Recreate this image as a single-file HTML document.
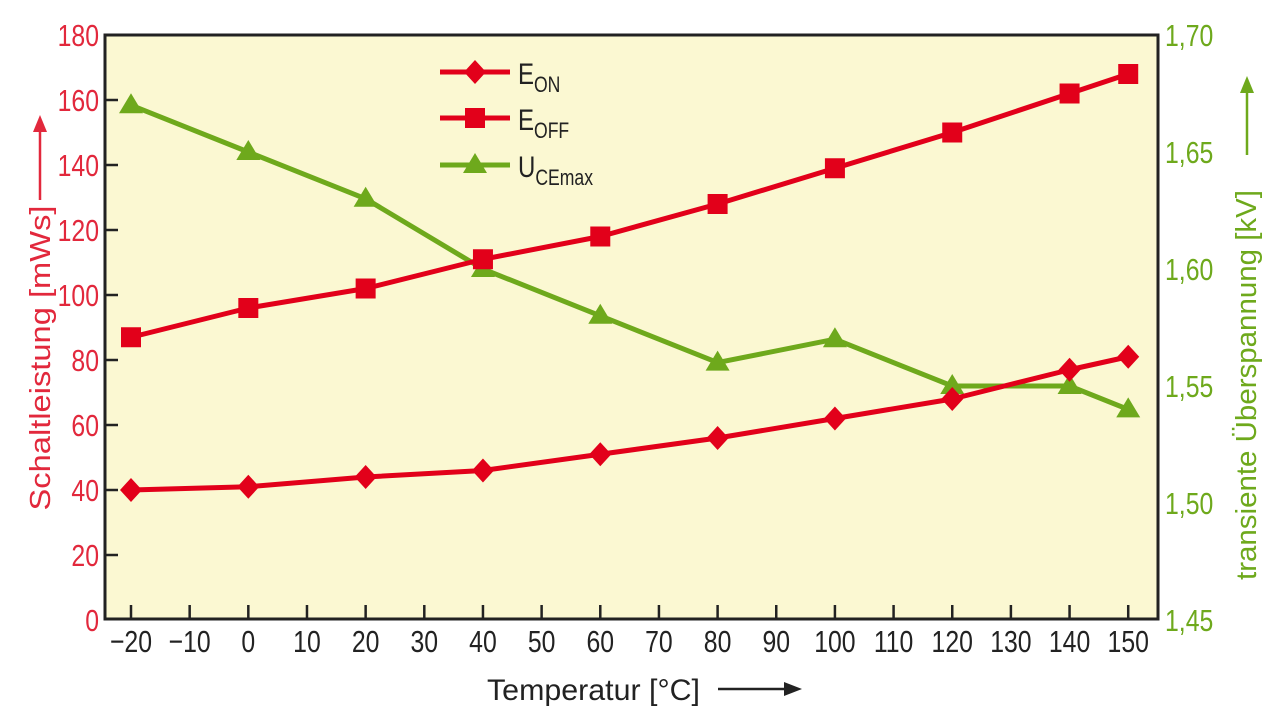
<!DOCTYPE html>
<html><head><meta charset="utf-8"><style>
body{margin:0;background:#fff;}
svg{display:block;font-family:"Liberation Sans Narrow","Liberation Sans",sans-serif;}
</style></head><body>
<svg id="chart" width="1280" height="721" viewBox="0 0 1280 721">
<rect x="105" y="35" width="1053" height="584" fill="#fbf8d2" stroke="#222" stroke-width="3"/>
<g id="ticks"></g><g id="series"></g>
<g font-size="30" fill="#222">
 <line x1="440" y1="72" x2="510" y2="72" stroke="#e2001a" stroke-width="5"/><path d="M475 60 L486 72 L475 84 L464 72Z" fill="#e2001a"/>
 <text class="c" x="518" y="84">E<tspan font-size="22" dy="8">ON</tspan></text>
 <line x1="440" y1="118" x2="510" y2="118" stroke="#e2001a" stroke-width="5"/><rect x="465" y="108" width="20" height="20" fill="#e2001a"/>
 <text class="c" x="518" y="130">E<tspan font-size="22" dy="8">OFF</tspan></text>
 <line x1="440" y1="165" x2="510" y2="165" stroke="#6ea91c" stroke-width="5"/><path d="M475 153 L487 173 L463 173Z" fill="#6ea91c"/>
 <text class="c" x="518" y="177">U<tspan font-size="22" dy="8">CEmax</tspan></text>
</g>
<text transform="translate(50,358) rotate(-90)" text-anchor="middle" font-size="29" fill="#e2283c" textLength="305" lengthAdjust="spacingAndGlyphs">Schaltleistung [mWs]</text>
<g><line x1="40" y1="200" x2="40" y2="130" stroke="#e2283c" stroke-width="2.5"/><path d="M40 115 L47 132 L33 132Z" fill="#e2283c"/></g>
<text transform="translate(1256,385) rotate(-90)" text-anchor="middle" font-size="29" fill="#6ea91c" textLength="390" lengthAdjust="spacingAndGlyphs">transiente Überspannung [kV]</text>
<g><line x1="1247" y1="155" x2="1247" y2="92" stroke="#6ea91c" stroke-width="2.5"/><path d="M1247 76 L1254 93 L1240 93Z" fill="#6ea91c"/></g>
<text x="487" y="700" font-size="30" fill="#222" textLength="213" lengthAdjust="spacingAndGlyphs">Temperatur [°C]</text>
<g><line x1="718" y1="689" x2="785" y2="689" stroke="#222" stroke-width="2.5"/><path d="M802 689 L784 682 L784 696Z" fill="#222"/></g>
</svg>
<script>
const temps=[-20,0,20,40,60,80,100,120,140,150];
const eon=[40,41,44,46,51,56,62,68,77,81];
const eoff=[87,96,102,111,118,128,139,150,162,168];
const uce=[1.67,1.65,1.63,1.60,1.58,1.56,1.57,1.55,1.55,1.54];
const xTicks=[-20,-10,0,10,20,30,40,50,60,70,80,90,100,110,120,130,140,150];
const yLeftTicks=[0,20,40,60,80,100,120,140,160,180];
const yRightTicks=["1,45","1,50","1,55","1,60","1,65","1,70"];
const NS="http://www.w3.org/2000/svg";
const X=v=>131+(v+20)*5.866, YL=v=>620-v*3.25, YR=v=>620-(v-1.45)*2340;
function mk(t,a,p){const e=document.createElementNS(NS,t);for(const k in a)e.setAttribute(k,a[k]);p.appendChild(e);return e;}
const tk=document.getElementById('ticks'), sr=document.getElementById('series');
xTicks.forEach(v=>{const x=X(v);
 const l=mk('line',{x1:x,y1:619,x2:x,y2:605,stroke:'#222','stroke-width':2.5},tk);
 
 
 const t=mk('text',{x:x,y:652,'text-anchor':'middle','font-size':31,fill:'#222',class:'c'},tk);
 t.textContent=v<0?'\u2212'+(-v):v;
 
 });
yLeftTicks.forEach(v=>{const y=YL(v);
 if(v>0&&v<180){const l=mk('line',{x1:105,y1:y,x2:118,y2:y,stroke:'#222','stroke-width':2.5},tk);
 
 }
 const t=mk('text',{x:99,y:y+11,'text-anchor':'end','font-size':31,fill:'#e2283c',class:'c'},tk);
 t.textContent=v;
 
 });
yRightTicks.forEach(s=>{const y=YR(parseFloat(s.replace(',','.')));
 const t=mk('text',{x:1165,y:y+11,'font-size':31,fill:'#6ea91c',class:'c'},tk);
 t.textContent=s;
 
 });
function series(vals,ys,col,shape,name){
 const pts=vals.map((v,i)=>[X(temps[i]),ys(v)]);
 const pl=mk('polyline',{points:pts.map(p=>p.join(',')).join(' '),fill:'none',stroke:col,'stroke-width':5,'stroke-linejoin':'round'},sr);
 
 
 pts.forEach(([x,y])=>{let m;
  if(shape==='d')m=mk('path',{d:`M${x} ${y-12}L${x+11} ${y}L${x} ${y+12}L${x-11} ${y}Z`,fill:col},sr);
  else if(shape==='s')m=mk('rect',{x:x-10,y:y-10,width:20,height:20,fill:col},sr);
  else m=mk('path',{d:`M${x} ${y-12}L${x+12} ${y+8}L${x-12} ${y+8}Z`,fill:col},sr);
  
  });
}
series(uce,YR,'#6ea91c','t','uce');
series(eon,YL,'#e2001a','d','eon');
series(eoff,YL,'#e2001a','s','eoff');
document.querySelectorAll('text.c').forEach(t=>{const w=t.getComputedTextLength();
 t.setAttribute('textLength',(w*0.8).toFixed(1));
 t.setAttribute('lengthAdjust','spacingAndGlyphs');});
</script>
</body></html>
